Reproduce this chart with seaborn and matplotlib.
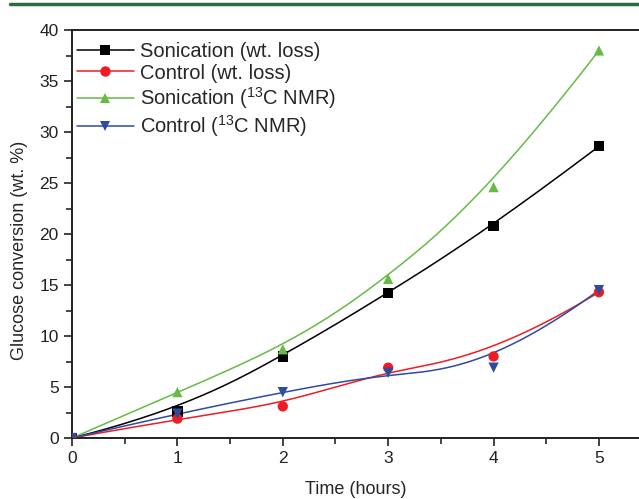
import numpy as np
import pandas as pd
import matplotlib
matplotlib.use("Agg")
import matplotlib.pyplot as plt
import seaborn as sns
from matplotlib.lines import Line2D
from matplotlib.ticker import MultipleLocator

# data
hours = [0, 1, 2, 3, 4, 5]
son_wt = [0, 2.6, 8.0, 14.2, 20.8, 28.6]
ctrl_wt = [0, 1.9, 3.1, 6.9, 8.0, 14.3]
son_nmr = [0, 4.5, 8.7, 15.6, 24.6, 38.0]
ctrl_nmr = [0, 2.4, 4.5, 6.4, 6.9, 14.5]

labels = ["Sonication (wt. loss)", "Control (wt. loss)",
          "Sonication ($^{13}$C NMR)", "Control ($^{13}$C NMR)"]
colors = ["#000000", "#ee1c24", "#66bb47", "#2e4b9e"]
markers = ["s", "o", "^", "v"]


def bspline(xs, ys, n=200, k=3):
    """Clamped cubic B-spline using the data points as control points."""
    pts = np.column_stack([xs, ys]).astype(float)
    m = len(pts)
    inner = np.arange(1, m - k)
    knots = np.concatenate([np.zeros(k + 1), inner, np.full(k + 1, m - k)])
    t = np.linspace(0, m - k, n)
    t[-1] -= 1e-9

    def basis(i, p, u):
        if p == 0:
            return ((knots[i] <= u) & (u < knots[i + 1])).astype(float)
        out = np.zeros_like(u)
        d1 = knots[i + p] - knots[i]
        d2 = knots[i + p + 1] - knots[i + 1]
        if d1 > 0:
            out += (u - knots[i]) / d1 * basis(i, p - 1, u)
        if d2 > 0:
            out += (knots[i + p + 1] - u) / d2 * basis(i + 1, p - 1, u)
        return out

    B = np.array([basis(i, k, t) for i in range(m)])
    curve = B.T @ pts
    return curve[:, 0], curve[:, 1]


series = [son_wt, ctrl_wt, son_nmr, ctrl_nmr]
curve_rows = []
point_rows = []
for lab, ys in zip(labels, series):
    cx, cy = bspline(hours, ys)
    curve_rows.append(pd.DataFrame({"x": cx, "y": cy, "series": lab}))
    point_rows.append(pd.DataFrame({"x": hours, "y": ys, "series": lab}))
curves = pd.concat(curve_rows, ignore_index=True)
points = pd.concat(point_rows, ignore_index=True)

sns.set_style("ticks")
plt.rcParams["font.family"] = ["Liberation Sans", "DejaVu Sans"]
plt.rcParams["mathtext.default"] = "regular"

fig = plt.figure(figsize=(6.39, 4.99), dpi=100)
ax = fig.add_axes([0.1127, 0.1222, 0.8873, 0.8176])

palette = dict(zip(labels, colors))
sns.lineplot(data=curves, x="x", y="y", hue="series", palette=palette,
             hue_order=labels, linewidth=1.1, sort=False, estimator=None,
             legend=False, ax=ax)
sns.scatterplot(data=points, x="x", y="y", hue="series", style="series",
                palette=palette, hue_order=labels, style_order=labels,
                markers=dict(zip(labels, markers)), s=55, linewidth=0,
                legend=False, ax=ax, zorder=3)

ax.set_xlim(0, 5.38)
ax.set_ylim(0, 40)
ax.xaxis.set_major_locator(MultipleLocator(1))
ax.xaxis.set_minor_locator(MultipleLocator(0.5))
ax.yaxis.set_major_locator(MultipleLocator(5))
ax.yaxis.set_minor_locator(MultipleLocator(2.5))
ax.tick_params(which="major", direction="out", length=6, width=1.2,
               labelsize=12.5, colors="#222222")
ax.tick_params(which="minor", direction="out", length=4, width=1.2)
ax.tick_params(top=False, right=False)
for side in ["left", "bottom", "top"]:
    ax.spines[side].set_linewidth(1.4)
    ax.spines[side].set_color("#222222")
ax.spines["right"].set_visible(False)

ax.set_xlabel("Time (hours)", fontsize=13, labelpad=11)
ax.set_ylabel("Glucose conversion (wt. %)", fontsize=13)
ax.yaxis.set_label_coords(-0.078, 0.46)

handles = [Line2D([0], [0], color=c, marker=mk, markersize=7.5, linewidth=1.1,
                  markeredgewidth=0)
           for c, mk in zip(colors, markers)]
ax.legend(handles, labels, loc="upper left", frameon=False, fontsize=14.5,
          handlelength=2.8, handletextpad=0.3, labelspacing=0.12,
          borderaxespad=0.2, bbox_to_anchor=(-0.012, 1.0))

# dark green rule across the top of the page
fig.add_artist(Line2D([0.015, 1.0], [0.991, 0.991], color="#2e6b3c",
                      linewidth=2.5, transform=fig.transFigure))

fig.savefig("out.png", dpi=100)
